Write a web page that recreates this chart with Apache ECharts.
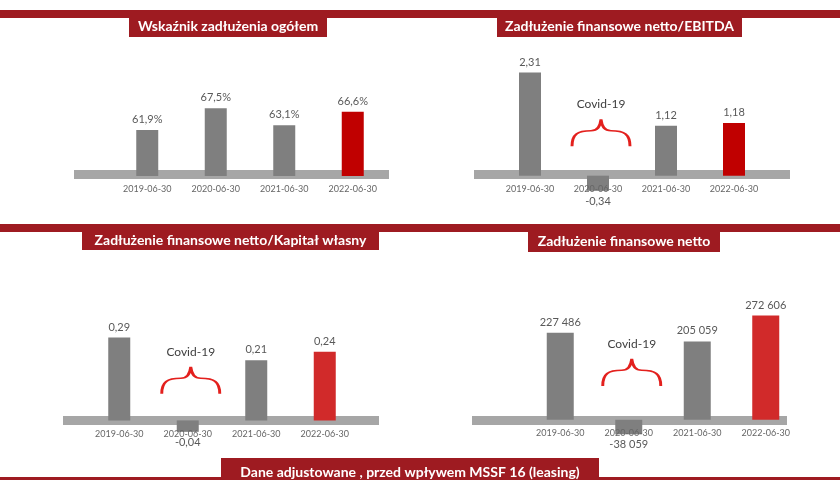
<!DOCTYPE html>
<html>
<head>
<meta charset="utf-8">
<script src="https://cdn.jsdelivr.net/npm/echarts@6/dist/echarts.min.js"></script>
<style>
  html, body { margin: 0; padding: 0; background: #fff; }
  #main { width: 840px; height: 480px; }
</style>
</head>
<body>
<div id="main"></div>
<script>
// dane
var kategorie = ['2019-06-30', '2020-06-30', '2021-06-30', '2022-06-30'];
var wskaznikZadluzenia = [61.9, 67.5, 63.1, 66.6];
var dlugEbitda = [2.31, -0.34, 1.12, 1.18];
var dlugKapital = [0.29, -0.04, 0.21, 0.24];
var dlugNetto = [227486, -38059, 205059, 272606];
var tytuly = ['Wskaźnik zadłużenia ogółem', 'Zadłużenie finansowe netto/EBITDA',
  'Zadłużenie finansowe netto/Kapitał własny', 'Zadłużenie finansowe netto'];
var stopka = 'Dane adjustowane , przed wpływem MSSF 16 (leasing)';
var covid = 'Covid-19';

var FONT = 'Lato, "Noto Sans", sans-serif';
var SZARY = '#7f7f7f';
var CZERWONY = '#d12a2a';
var BORDO = '#9e1b21';

function przecinek(v, d) { return v.toFixed(d).replace('.', ','); }
function tysiace(v) {
  var s = Math.abs(v).toString().replace(/\B(?=(\d{3})+(?!\d))/g, ' ');
  return (v < 0 ? '-' : '') + s;
}

// dane słupków z kolorem ostatniego słupka
function slupki(arr, red) {
  return arr.map(function (v, i) {
    var d = { value: v, itemStyle: { color: i === arr.length - 1 ? red : SZARY } };
    if (v < 0) d.label = { position: 'bottom' };
    return d;
  });
}

var klamra = 'path://M1,27 C1,15 7,12 20,12 C26,12 29,9 30,1 C31,9 34,12 40,12 C53,12 59,15 59,27';
function covidMark(val) {
  return {
    silent: true,
    symbol: klamra,
    symbolSize: [58, 27],
    itemStyle: { color: 'none', borderColor: '#e3201d', borderWidth: 2 },
    label: { show: true, position: 'top', distance: 7, formatter: covid, color: '#404040', fontSize: 12, fontFamily: FONT },
    data: [{ coord: ['2020-06-30', val], symbolOffset: [3, 0] }]
  };
}

var grids = [
  { left: 113, width: 274, top: 60, height: 116 },
  { left: 496, width: 272, top: 64, height: 134 },
  { left: 85, width: 274, top: 306, height: 143 },
  { left: 526, width: 274, top: 286, height: 172 }
];
var yZakresy = [[50, 80], [-0.5, 2.5], [-0.1, 0.4], [-100000, 350000]];

// oś kategorii przesunięta na poziom zera
var xAxes = grids.map(function (g, i) {
  var mn = yZakresy[i][0], mx = yZakresy[i][1];
  var off = mn < 0 ? -g.height * (-mn) / (mx - mn) : 0;
  return {
    type: 'category', gridIndex: i, data: kategorie, z: 5, offset: off,
    axisLine: { show: false }, axisTick: { show: false },
    axisLabel: { color: '#666', fontSize: 9, fontFamily: FONT, margin: 9 }
  };
});
var yAxes = grids.map(function (g, i) {
  return {
    type: 'value', gridIndex: i, min: yZakresy[i][0], max: yZakresy[i][1],
    axisLine: { show: false }, axisTick: { show: false }, axisLabel: { show: false },
    splitLine: { show: false }
  };
});

var etykieta = function (fmt) {
  return { show: true, position: 'top', distance: 5, color: '#595959', fontSize: 11, fontFamily: FONT, formatter: fmt };
};

var series = [
  {
    type: 'bar', xAxisIndex: 0, yAxisIndex: 0, barWidth: 22,
    data: slupki(wskaznikZadluzenia, '#c00000'),
    label: etykieta(function (p) { return przecinek(p.value, 1) + '%'; })
  },
  {
    type: 'bar', xAxisIndex: 1, yAxisIndex: 1, barWidth: 22,
    data: slupki(dlugEbitda, '#c00000'),
    label: etykieta(function (p) { return przecinek(p.value, 2); }),
    markPoint: covidMark(0.96)
  },
  {
    type: 'bar', xAxisIndex: 2, yAxisIndex: 2, barWidth: 22,
    data: slupki(dlugKapital, CZERWONY),
    label: etykieta(function (p) { return przecinek(p.value, 2); }),
    markPoint: covidMark(0.14)
  },
  {
    type: 'bar', xAxisIndex: 3, yAxisIndex: 3, barWidth: 27,
    data: slupki(dlugNetto, CZERWONY),
    label: etykieta(function (p) { return tysiace(p.value); }),
    markPoint: covidMark(124000)
  }
];

// ozdobne paski, ramki tytułów
function tytul(text, x1, x2, y1, y2) {
  return [
    { type: 'rect', shape: { x: x1, y: y1, width: x2 - x1, height: y2 - y1 }, style: { fill: BORDO } },
    { type: 'text', x: (x1 + x2) / 2, y: (y1 + y2) / 2 + 3, style: { text: text, fill: '#fff', font: 'bold 14px ' + FONT, textAlign: 'center', textVerticalAlign: 'middle' } }
  ];
}
function podstawa(x1, x2, y) {
  return { type: 'rect', shape: { x: x1, y: y, width: x2 - x1, height: 9 }, style: { fill: '#a6a6a6' } };
}

var graphic = [
  { type: 'rect', shape: { x: 0, y: 10, width: 840, height: 8 }, style: { fill: BORDO } },
  { type: 'rect', shape: { x: 0, y: 224, width: 840, height: 8 }, style: { fill: BORDO } },
  { type: 'rect', shape: { x: 0, y: 477, width: 840, height: 3 }, style: { fill: BORDO } },
  podstawa(74, 389, 170),
  podstawa(474, 790, 170),
  podstawa(63, 379, 416),
  podstawa(472, 787, 416)
].concat(
  tytul(tytuly[0], 129, 327, 10, 37),
  tytul(tytuly[1], 497, 742, 10, 37),
  tytul(tytuly[2], 82, 379, 224, 250),
  tytul(tytuly[3], 528, 720, 224, 252),
  tytul(stopka, 221, 599, 458, 480)
);

var chart = echarts.init(document.getElementById('main'));
chart.setOption({
  animation: false,
  backgroundColor: '#fff',
  grid: grids,
  xAxis: xAxes,
  yAxis: yAxes,
  series: series,
  graphic: graphic
});
</script>
</body>
</html>
